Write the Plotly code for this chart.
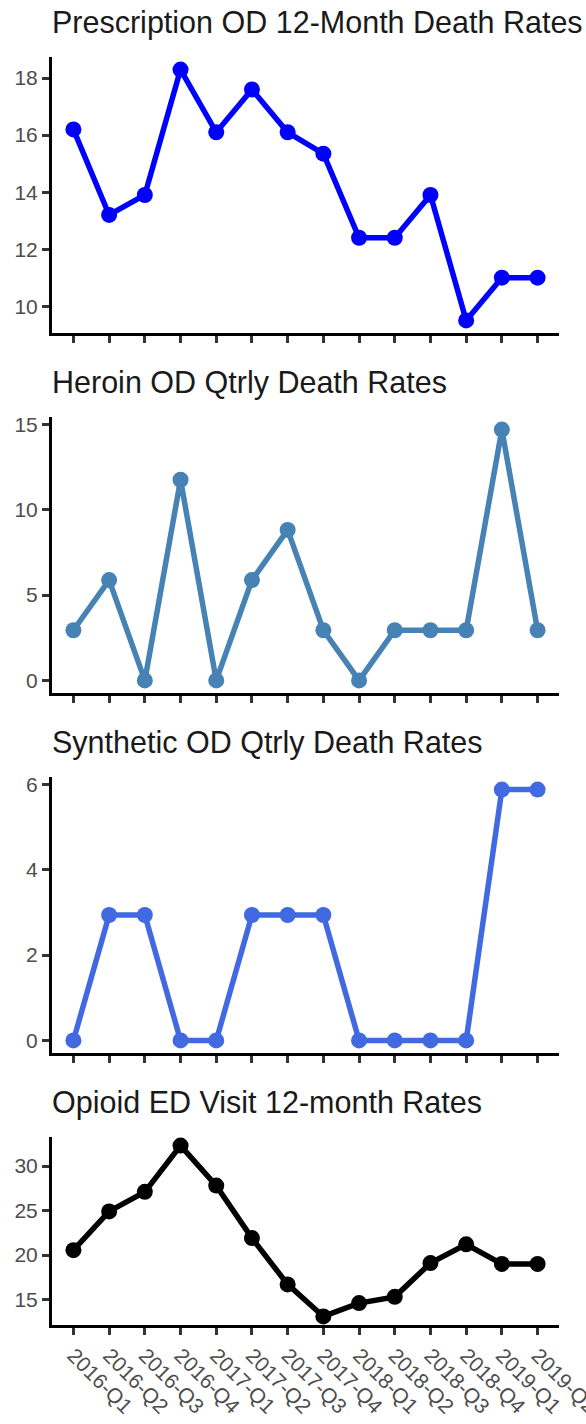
import plotly.graph_objects as go

quarters = ["2016-Q1", "2016-Q2", "2016-Q3", "2016-Q4", "2017-Q1", "2017-Q2", "2017-Q3",
            "2017-Q4", "2018-Q1", "2018-Q2", "2018-Q3", "2018-Q4", "2019-Q1", "2019-Q2"]

prescription = [16.2, 13.2, 13.9, 18.3, 16.1, 17.6, 16.1, 15.35, 12.4, 12.4, 13.9, 9.5, 11.0, 11.0]
heroin = [2.94, 5.88, 0, 11.76, 0, 5.88, 8.82, 2.94, 0, 2.94, 2.94, 2.94, 14.7, 2.94]
synthetic = [0, 2.94, 2.94, 0, 0, 2.94, 2.94, 2.94, 0, 0, 0, 0, 5.88, 5.88]
ed_visits = [20.55, 24.9, 27.1, 32.3, 27.8, 21.9, 16.7, 13.1, 14.6, 15.3, 19.1, 21.2, 19.0, 19.0]

titles = ["Prescription OD 12-Month Death Rates", "Heroin OD Qtrly Death Rates",
          "Synthetic OD Qtrly Death Rates", "Opioid ED Visit 12-month Rates"]
series = [prescription, heroin, synthetic, ed_visits]
colors = ["#0000FF", "#4682B4", "#4169E1", "#000000"]
ytick_vals = [[10, 12, 14, 16, 18], [0, 5, 10, 15], [0, 2, 4, 6], [15, 20, 25, 30]]

W, H = 586, 1424
# panel pixel boxes (top, bottom)
panels_px = [(57, 333), (417, 693), (777, 1053), (1137, 1325)]
x_left, x_right = 52, 559
title_baseline_px = [32, 392, 752, 1112]

fig = go.Figure()
FONT = "Liberation Sans, Arial, Helvetica, sans-serif"

for i, (vals, col) in enumerate(zip(series, colors)):
    n = i + 1
    xa = "x" if n == 1 else f"x{n}"
    ya = "y" if n == 1 else f"y{n}"
    fig.add_trace(go.Scatter(
        x=quarters, y=vals, mode="lines+markers",
        line=dict(color=col, width=5.5),
        marker=dict(color=col, size=16),
        xaxis=xa, yaxis=ya, showlegend=False, cliponaxis=False,
    ))
    top, bot = panels_px[i]
    lo, hi = min(vals), max(vals)
    span = hi - lo
    yr = [lo - 0.05 * span, hi + 0.05 * span]
    common = dict(showline=True, linecolor="black", linewidth=3, ticks="outside",
                  ticklen=7, tickwidth=3, tickcolor="#333333", showgrid=False,
                  zeroline=False, automargin=False,
                  tickfont=dict(family=FONT, size=21, color="#4D4D4D"))
    xkey = "xaxis" if n == 1 else f"xaxis{n}"
    ykey = "yaxis" if n == 1 else f"yaxis{n}"
    fig.update_layout({
        xkey: dict(common, domain=[x_left / W, x_right / W], anchor=ya,
                   type="category", categoryorder="array", categoryarray=quarters,
                   range=[-0.6, len(quarters) - 1 + 0.6],
                   showticklabels=(n == 4), tickangle=45),
        ykey: dict(common, domain=[1 - bot / H, 1 - top / H], anchor=xa,
                   range=yr, tickvals=ytick_vals[i],
                   ticktext=[str(v) for v in ytick_vals[i]]),
    })
    fig.add_annotation(text=titles[i], xref="paper", yref="paper",
                       x=x_left / W - 0.004, y=1 - (title_baseline_px[i] + 10) / H,
                       xanchor="left", yanchor="bottom", showarrow=False,
                       font=dict(family=FONT, size=30.5, color="#1A1A1A"))

fig.update_layout(width=W, height=H, margin=dict(l=0, r=0, t=0, b=0),
                  paper_bgcolor="white", plot_bgcolor="white", template="none")

fig.write_html("out.html", config={"displayModeBar": False},
               post_script="document.body.style.margin='0';document.body.style.overflow='hidden';")
